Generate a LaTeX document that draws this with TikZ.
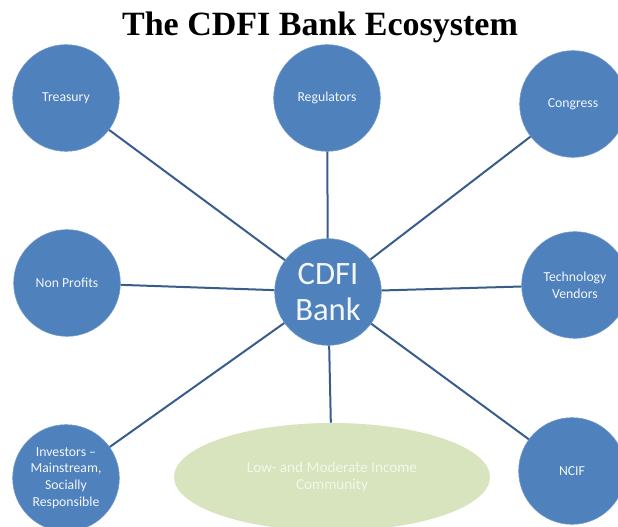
\documentclass[tikz,border=0pt]{standalone}
\usepackage{fontspec}
\setmainfont{Carlito}
\newfontfamily\titlefont{Liberation Serif}
\usepackage{tikz}
\usetikzlibrary{shapes.geometric}
\definecolor{hubblue}{RGB}{79,129,189}
\definecolor{spokeblue}{RGB}{56,93,138}
\definecolor{lmigreen}{RGB}{215,228,189}
\tikzset{
        member/.style = {circle, fill=hubblue, draw=hubblue!80!white,
            line width=0.4pt, inner sep=0pt, minimum size=80pt,
            text=white!93!hubblue, align=center,
            font=\fontsize{10.3pt}{12.5pt}\selectfont},
        bank/.style = {member, font=\fontsize{24.5pt}{27.5pt}\selectfont},
        community/.style = {ellipse, fill=lmigreen, inner sep=0pt,
            minimum width=237pt, minimum height=81pt,
            text=white!70!lmigreen, align=center,
            font=\fontsize{11.4pt}{12.5pt}\selectfont},
        spoke/.style = {draw=spokeblue, line width=1.5pt},
    }

\begin{document}
\begin{tikzpicture}[x=0.75pt,y=0.75pt,yscale=-1,xscale=1]
    \useasboundingbox (0,0) rectangle (618,527);
    \clip (0,0) rectangle (618,527);

    % Title
    \node (title) at (320,36) [anchor=base] {\titlefont\bfseries\fontsize{25.5pt}{28pt}\selectfont The CDFI Bank Ecosystem};

    % Hub
    \node (bank) at (328,292) [bank] {CDFI\\Bank};

    % Members round the hub
    \node (treasury) at (66,98) [member] {Treasury};
    \node (regulators) at (327,98) [member] {Regulators};
    \node (congress) at (573,104) [member] {Congress};
    \node (nonprofits) at (67,283) [member] {Non Profits};
    \node (vendors) at (575,285) [member] {Technology\\Vendors};
    \node (investors) at (66,478) [member] {Investors --\\Mainstream,\\Socially\\Responsible};
    \node (ncif) at (572,471) [member] {NCIF};
    \node (lmi) at (332,477) [community] {Low- and Moderate Income\\Community};

    % Spokes
    \foreach \m in {treasury,regulators,congress,nonprofits,vendors,investors,ncif,lmi}
        \draw [spoke] (bank) -- (\m);

\end{tikzpicture}
\end{document}
